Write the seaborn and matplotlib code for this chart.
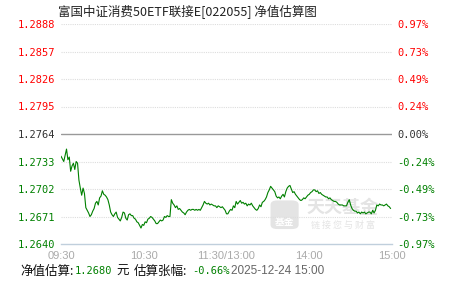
import matplotlib
matplotlib.use("Agg")
import matplotlib.pyplot as plt
import seaborn as sns
import pandas as pd
from matplotlib.patches import FancyBboxPatch

# ---------------- data ----------------
title = "富国中证消费50ETF联接E[022055] 净值估算图"
base_nav = 1.2764
nav_ticks = [1.2640, 1.2671, 1.2702, 1.2733, 1.2764, 1.2795, 1.2826, 1.2857, 1.2888]
pct_labels = ["-0.97%", "-0.73%", "-0.49%", "-0.24%", "0.00%", "0.24%", "0.49%", "0.73%", "0.97%"]
time_tick_pos = [0, 60, 120, 180, 240]
time_tick_labels = ["09:30", "10:30", "11:30/13:00", "14:00", "15:00"]
minor_tick_pos = [0, 30, 60, 90, 120, 150, 180, 210, 240]
nav_values = [
    1.2739, 1.2736, 1.2733, 1.2740, 1.2747, 1.2735, 1.2738, 1.2722, 1.2728, 1.2731,
    1.2724, 1.2733, 1.2731, 1.2712, 1.2703, 1.2695, 1.2703, 1.2697, 1.2681, 1.2678,
    1.2675, 1.2671, 1.2673, 1.2677, 1.2680, 1.2686, 1.2688, 1.2684, 1.2692, 1.2694,
    1.2700, 1.2696, 1.2695, 1.2693, 1.2690, 1.2684, 1.2676, 1.2673, 1.2671, 1.2674,
    1.2676, 1.2670, 1.2668, 1.2666, 1.2670, 1.2676, 1.2675, 1.2669, 1.2667, 1.2673,
    1.2674, 1.2672, 1.2672, 1.2669, 1.2668, 1.2665, 1.2664, 1.2661, 1.2658, 1.2662,
    1.2661, 1.2665, 1.2664, 1.2668, 1.2669, 1.2671, 1.2670, 1.2668, 1.2666, 1.2663,
    1.2663, 1.2665, 1.2667, 1.2666, 1.2667, 1.2671, 1.2670, 1.2672, 1.2671, 1.2671,
    1.2690, 1.2686, 1.2684, 1.2681, 1.2683, 1.2679, 1.2680, 1.2678, 1.2676, 1.2675,
    1.2673, 1.2676, 1.2678, 1.2679, 1.2678, 1.2679, 1.2679, 1.2678, 1.2679, 1.2678,
    1.2679, 1.2678, 1.2681, 1.2684, 1.2688, 1.2686, 1.2685, 1.2686, 1.2684, 1.2685,
    1.2684, 1.2683, 1.2683, 1.2681, 1.2683, 1.2682, 1.2681, 1.2682, 1.2680, 1.2678,
    1.2674, 1.2674, 1.2677, 1.2679, 1.2678, 1.2683, 1.2681, 1.2688, 1.2685, 1.2687,
    1.2689, 1.2686, 1.2687, 1.2685, 1.2686, 1.2683, 1.2685, 1.2684, 1.2686, 1.2683,
    1.2681, 1.2679, 1.2678, 1.2680, 1.2684, 1.2682, 1.2687, 1.2688, 1.2690, 1.2693,
    1.2698, 1.2701, 1.2705, 1.2703, 1.2701, 1.2699, 1.2694, 1.2692, 1.2693, 1.2691,
    1.2694, 1.2696, 1.2693, 1.2699, 1.2703, 1.2705, 1.2706, 1.2702, 1.2698, 1.2699,
    1.2696, 1.2694, 1.2692, 1.2690, 1.2689, 1.2690, 1.2692, 1.2691, 1.2693, 1.2695,
    1.2696, 1.2698, 1.2699, 1.2701, 1.2701, 1.2699, 1.2700, 1.2697, 1.2698, 1.2696,
    1.2695, 1.2694, 1.2693, 1.2693, 1.2691, 1.2692, 1.2690, 1.2689, 1.2688, 1.2688,
    1.2687, 1.2685, 1.2684, 1.2684, 1.2684, 1.2683, 1.2683, 1.2683, 1.2687, 1.2690,
    1.2684, 1.2680, 1.2678, 1.2677, 1.2677, 1.2675, 1.2676, 1.2674, 1.2676, 1.2675,
    1.2676, 1.2674, 1.2675, 1.2676, 1.2676, 1.2674, 1.2678, 1.2675, 1.2678, 1.2684,
    1.2683, 1.2685, 1.2684, 1.2684, 1.2683, 1.2684, 1.2685, 1.2683, 1.2682, 1.2680,
]
minutes = list(range(len(nav_values)))
est_nav = "1.2680"
est_pct = "-0.66%"
est_time = "2025-12-24 15:00"

# ---------------- style ----------------
sns.set_theme(style="white")
plt.rcParams["font.family"] = ["DejaVu Sans", "Noto Sans CJK SC"]
plt.rcParams["axes.unicode_minus"] = False

RED = "#ff0000"
GREEN = "#008000"
DARK = "#333333"
AXIS = "#c0cfdc"

W, H = 451, 281
fig = plt.figure(figsize=(W / 100, H / 100), dpi=100)
fig.patch.set_facecolor("white")

L, R, T, B = 61, 392, 24, 244
ax = fig.add_axes([L / W, 1 - B / H, (R - L) / W, (B - T) / H])
ax.set_facecolor("white")

df = pd.DataFrame({"minute": minutes, "nav": nav_values})
sns.lineplot(data=df, x="minute", y="nav", ax=ax, color=GREEN, linewidth=0.8, zorder=3)

ax.set_xlim(0, 240)
ax.set_ylim(nav_ticks[0], nav_ticks[-1])
ax.set_xlabel("")
ax.set_ylabel("")

# grid lines
for v in nav_ticks[1:]:
    if abs(v - base_nav) < 1e-9:
        ax.axhline(v, color="#999999", linewidth=1.0, zorder=2)
    else:
        ax.axhline(v, color="#dddddd", linewidth=0.8, linestyle=(0, (1, 1)), zorder=1)

for s in ["left", "right", "top"]:
    ax.spines[s].set_visible(False)
ax.spines["bottom"].set_color(AXIS)
ax.spines["bottom"].set_linewidth(1.0)

ax.set_xticks(minor_tick_pos, minor=True)
ax.set_xticks(time_tick_pos)
ax.set_xticklabels(time_tick_labels)
ax.tick_params(axis="x", which="both", direction="in", length=4, width=1, color=AXIS,
               labelsize=8, labelcolor="#aaaaaa", pad=5)
for lab in ax.get_xticklabels():
    lab.set_fontfamily("Liberation Sans")

def col(v):
    if abs(v - base_nav) < 1e-9:
        return DARK
    return RED if v > base_nav else GREEN

ax.set_yticks(nav_ticks)
ax.set_yticklabels([f"{v:.4f}" for v in nav_ticks])
ax.tick_params(axis="y", which="both", length=0, pad=4, labelsize=7.5)
for lab, v in zip(ax.get_yticklabels(), nav_ticks):
    lab.set_color(col(v))
    lab.set_fontfamily("DejaVu Sans Mono")

ax2 = ax.twinx()
ax2.set_position(ax.get_position())
ax2.set_ylim(ax.get_ylim())
ax2.set_yticks(nav_ticks)
ax2.set_yticklabels(pct_labels)
ax2.tick_params(axis="y", length=0, pad=4, labelsize=7.5)
for lab, v in zip(ax2.get_yticklabels(), nav_ticks):
    lab.set_color(col(v))
    lab.set_fontfamily("DejaVu Sans Mono")
for s in ax2.spines.values():
    s.set_visible(False)
ax2.grid(False)

# watermark
wm = "#e4e4e4"
box = FancyBboxPatch((0.633, 0.068), 0.085, 0.13, boxstyle="round,pad=0.0,rounding_size=0.02",
                     transform=ax.transAxes, facecolor=wm, edgecolor="none", zorder=0.5)
ax.add_patch(box)
ax.text(0.675, 0.10, "基金", transform=ax.transAxes, ha="center", va="center",
        fontsize=7, color="white", fontfamily="Noto Sans CJK SC", fontweight="bold", zorder=0.6)
ax.text(0.85, 0.165, "天天基金", transform=ax.transAxes, ha="center", va="center",
        fontsize=13, color=wm, fontfamily="Noto Sans CJK SC", fontweight="bold", zorder=0.6)
ax.text(0.852, 0.085, "链 接 您 与 财 富", transform=ax.transAxes, ha="center", va="center",
        fontsize=6.5, color=wm, fontfamily="Noto Sans CJK SC", zorder=0.6)

# title
fig.text(58 / W, 1 - 12 / H, title, ha="left", va="center", fontsize=9,
         color="#222222", fontfamily=["Noto Sans CJK SC", "DejaVu Sans"])

# bottom info line
yb = 1 - 271 / H
cjk = ["Noto Sans CJK SC", "DejaVu Sans"]
fig.text(20 / W, yb, "净值估算:", ha="left", va="center", fontsize=9, color="#111111", fontfamily=cjk)
fig.text(75 / W, yb, est_nav, ha="left", va="center", fontsize=7.5, color=GREEN, fontfamily="DejaVu Sans Mono")
fig.text(116 / W, yb, "元", ha="left", va="center", fontsize=9, color="#111111", fontfamily=cjk)
fig.text(134 / W, yb, "估算张幅:", ha="left", va="center", fontsize=9, color="#111111", fontfamily=cjk)
fig.text(192 / W, yb, est_pct, ha="left", va="center", fontsize=7.5, color=GREEN, fontfamily="DejaVu Sans Mono")
fig.text(231 / W, yb, est_time, ha="left", va="center", fontsize=8.5, color="#666666", fontfamily="Liberation Sans")

fig.savefig("out.png", dpi=100, facecolor="white")
